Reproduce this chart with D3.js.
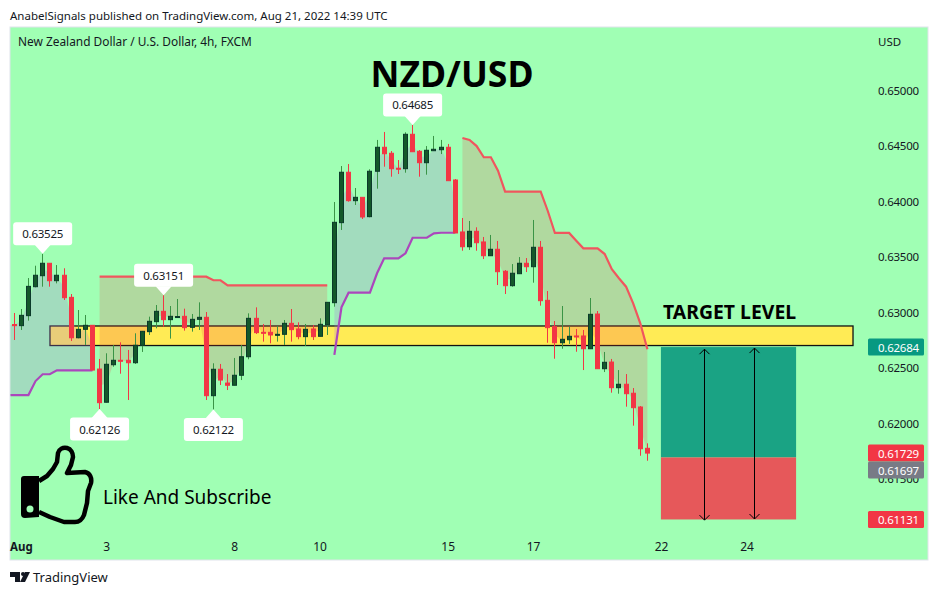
<!DOCTYPE html>
<html><head><meta charset="utf-8">
<script src="https://cdn.jsdelivr.net/npm/d3@7"></script>
<style>
html,body{margin:0;padding:0;background:#fff}
svg{display:block}
text{font-family:"Noto Sans",sans-serif;fill:#131722}
</style></head><body>
<svg id="c" width="938" height="595"></svg>
<script>
// Prices in 1e-5 units, one entry per 4h candle
const open=[62887,62877,62967,63228,63327,63439,63282,63331,63132,62768,62844,62880,62486,62187,62525,62565,62565,62543,62700,62823,62913,63006,62931,62957,62961,62862,62934,62952,62246,62484,62360,62340,62430,62597,62943,62817,62817,62795,62799,62898,62847,62778,62847,62781,62886,63084,63805,64259,64003,64033,63859,64268,64484,64430,64295,64291,64601,64448,64345,64453,64462,64484,64189,63721,63588,63727,63631,63507,63565,63367,63237,63345,63439,63408,63583,63105,62868,62723,62750,62784,62784,62669,62982,62489,62549,62318,62349,62268,62144,61772];
const close=[62877,62970,63231,63331,63439,63282,63331,63129,62768,62844,62880,62477,62183,62529,62565,62559,62543,62700,62826,62916,63006,62931,62961,62959,62859,62934,62952,62246,62484,62387,62340,62430,62597,62943,62814,62811,62793,62799,62898,62841,62778,62844,62778,62889,63087,63808,64259,64003,64033,63856,64268,64484,64426,64291,64291,64601,64444,64345,64457,64466,64484,64183,63712,63588,63727,63624,63507,63565,63363,63237,63349,63439,63408,63583,63102,62859,62723,62754,62781,62778,62669,62979,62489,62547,62318,62349,62264,62138,61768,61729];
const high=[62991,63027,63306,63417,63525,63441,63423,63394,63162,63018,62973,62883,62577,62628,62703,62727,62658,62808,62829,62958,63063,63151,63054,63117,63030,62982,63087,63000,62538,62532,62441,62586,62703,62988,63042,62892,62928,62874,62928,63027,62907,62892,62883,62943,63087,63991,64315,64333,64117,64033,64286,64550,64622,64450,64369,64619,64685,64459,64495,64586,64550,64514,64198,63847,63820,63763,63676,63694,63640,63378,63432,63495,63486,63829,63640,63189,62919,63054,62868,62847,62838,63126,63009,62640,62577,62477,62441,62315,62153,61817];
const low=[62748,62838,62922,63222,63228,63228,63258,63108,62739,62763,62703,62475,62126,62185,62507,62444,62207,62532,62640,62793,62853,62868,62760,62957,62832,62823,62838,62207,62122,62342,62297,62340,62387,62574,62802,62733,62718,62733,62703,62733,62754,62694,62748,62781,62793,63048,63739,63994,63964,63838,63853,64111,64309,64219,64243,64255,64444,64219,64237,64453,64423,64183,63712,63552,63559,63552,63477,63507,63243,63162,63228,63345,63360,63264,63057,62723,62579,62669,62712,62642,62477,62669,62489,62459,62273,62264,62147,61976,61705,61660];
// Trend stop lines: [candle index, price in 1e-5 units]
const upStop1=[[-1,62252],[0,62252],[1,62252],[2,62252],[3,62378],[4,62439],[5,62439],[6,62475],[7,62475],[8,62475],[9,62475],[10,62475],[11,62475]];
const downStop1=[[12,63318],[27,63318],[28,63286],[29,63286],[30,63240],[44,63240]];
const upStop2=[[45,62613],[46,63042],[47,63174],[50,63174],[51,63349],[52,63484],[54,63484],[55,63529],[56,63669],[58,63669],[59,63709],[60,63714],[62,63714]];
const downStop2=[[63,64568],[64,64550],[65,64495],[66,64394],[67,64394],[68,64273],[69,64084],[74,64084],[75,63910],[76,63712],[78,63712],[79,63642],[80,63574],[82,63574],[83,63522],[84,63385],[85,63304],[86,63228],[87,63078],[88,62898],[89,62664]];
const priceTicks=[0.65,0.645,0.64,0.635,0.63,0.625,0.62,0.615];
const dateTicks=[["Aug",1,true],["3",13],["8",31],["10",43],["15",61],["17",73],["22",91],["24",103]];
const callouts=[[4,"0.63525",1,63525],[21,"0.63151",1,63151],[12,"0.62126",-1,62126],[28,"0.62122",-1,62122],[56,"0.64685",1,64685]];
// value, colour, price the tag is pushed to so the two last-price tags stack
const priceTags=[[0.62684,"#089981",0.62684],[0.61729,"#f23645",0.61729],[0.61697,"#787b86",0.61576],[0.61131,"#f23645",0.61131]];
const bandPrices=[0.62874,0.62698];
const bandIdx=[5.03,117.9];
const zonePrices=[0.62684,0.6169,0.61131];
const zoneIdx=[90.9,109.9];
const arrowIdx=[[97,0.62665,0.61125],[104,0.62675,0.61135]];

const svg=d3.select("#c");
const x=d3.scaleLinear().domain([0,89]).range([14.2,647.4]);
const y=d3.scaleLinear().domain([0.65,0.62]).range([90,423]);
const yp=v=>y(v/1e5);
const GREEN="#14582a",GEDGE="#0b3a2a",GWICK="#3a9446",RED="#f23645";

const defs=svg.append("defs");
defs.append("clipPath").attr("id","pane").append("rect").attr("x",10.5).attr("y",27.5).attr("width",917).attr("height",532);

svg.append("rect").attr("x",10).attr("y",27).attr("width",918).attr("height",533).attr("fill","#a0ffb4").attr("stroke","#e0e3eb").attr("stroke-width",1);

const tf=(s,x0,y0,o={})=>svg.append("text").attr("x",x0).attr("y",y0).attr("font-size",o.size||12)
  .attr("font-weight",o.weight||400).attr("text-anchor",o.anchor||"start").attr("dominant-baseline","central")
  .attr("letter-spacing",o.ls||0).style("fill",o.fill||"#131722").text(s);

const pane=svg.append("g").attr("clip-path","url(#pane)");

// yellow band
pane.append("rect").attr("x",x(bandIdx[0])).attr("width",x(bandIdx[1])-x(bandIdx[0]))
  .attr("y",y(bandPrices[0])).attr("height",y(bandPrices[1])-y(bandPrices[0]))
  .attr("fill","#ffeb55").attr("stroke","#111").attr("stroke-width",1.3);

// expand a stop line to per-candle values
function expand(seg){
  const out=[];
  for(let k=0;k<seg.length-1;k++){
    const [a,va]=seg[k],[b,vb]=seg[k+1];
    for(let i=a;i<b;i++) out.push([i,va+(vb-va)*(i-a)/(b-a)]);
  }
  out.push(seg[seg.length-1]);
  return out;
}
const mid=i=>{const j=Math.max(0,i);return (open[j]+close[j])/2};
const area=d3.area().x(d=>x(d[0])).y0(d=>yp(d[1])).y1(d=>yp(mid(d[0])));
const line=d3.line().x(d=>x(d[0])).y(d=>yp(d[1]));
[[upStop1,"rgba(171,125,217,.27)","#ab47bc"],[downStop1,"rgba(242,54,69,.19)","#f0565e"],[upStop2,"rgba(171,125,217,.27)","#ab47bc"],[downStop2,"rgba(242,54,69,.19)","#f0565e"]].forEach(([s,f,c])=>{
  const e=expand(s);
  pane.append("path").attr("d",area(e)).attr("fill",f);
  pane.append("path").attr("d",line(e)).attr("fill","none").attr("stroke",c).attr("stroke-width",2.2);
});

// candles
const cg=pane.append("g");
const idx=d3.range(open.length);
const cx=i=>Math.round(x(i)-0.5)+0.5;
cg.selectAll("line.w").data(idx).join("line").attr("class","w")
  .attr("x1",cx).attr("x2",cx).attr("y1",i=>yp(high[i])).attr("y2",i=>yp(low[i]))
  .attr("stroke",i=>close[i]>=open[i]?GWICK:RED).attr("stroke-width",1);
cg.selectAll("rect.b").data(idx).join("rect").attr("class","b")
  .attr("x",i=>cx(i)-2).attr("width",4)
  .attr("y",i=>yp(Math.max(open[i],close[i])))
  .attr("height",i=>Math.max(1,Math.abs(yp(open[i])-yp(close[i]))))
  .attr("fill",i=>close[i]>=open[i]?GREEN:RED)
  .attr("stroke",i=>close[i]>=open[i]?GEDGE:RED).attr("stroke-width",1);

// position zones
pane.append("rect").attr("x",x(zoneIdx[0])).attr("width",x(zoneIdx[1])-x(zoneIdx[0]))
  .attr("y",y(zonePrices[0])).attr("height",y(zonePrices[1])-y(zonePrices[0])).attr("fill","#1aa384");
pane.append("rect").attr("x",x(zoneIdx[0])).attr("width",x(zoneIdx[1])-x(zoneIdx[0]))
  .attr("y",y(zonePrices[1])).attr("height",y(zonePrices[2])-y(zonePrices[1])).attr("fill","#e6585a");
arrowIdx.forEach(([i,a,b])=>{
  const X=Math.round(x(i))+0.5,t=y(a),B=y(b);
  const p=d3.path();
  p.moveTo(X,t);p.lineTo(X,B);
  p.moveTo(X-5,t+5);p.lineTo(X,t);p.lineTo(X+5,t+5);
  p.moveTo(X-5,B-5);p.lineTo(X,B);p.lineTo(X+5,B-5);
  pane.append("path").attr("d",p.toString()).attr("fill","none").attr("stroke","#000").attr("stroke-width",1);
});

// callouts
callouts.forEach(([i,t,dir,v])=>{
  const tx=x(i),ty=yp(v),w=59,h=23,tip=8.5;
  const by=dir>0?ty-tip-h:ty+tip;
  const g=pane.append("g");
  g.append("rect").attr("x",tx-w/2).attr("y",by).attr("width",w).attr("height",h).attr("rx",3).attr("fill","#fff");
  const edge=dir>0?ty-tip:ty+tip;
  g.append("path").attr("d",d3.line()([[tx-8,edge+(dir>0?-.5:.5)],[tx,ty],[tx+8,edge+(dir>0?-.5:.5)]])).attr("fill","#fff");
  g.append("text").attr("x",tx).attr("y",by+h/2).attr("text-anchor","middle").attr("dominant-baseline","central").attr("font-size",11.5).attr("letter-spacing",-0.25).text(t);
});

// price axis
priceTicks.forEach(v=>tf(d3.format(".5f")(v),878,y(v),{size:11.5,ls:-0.25}));
priceTags.forEach(([v,c,at])=>{
  svg.append("rect").attr("x",868).attr("y",y(at)-8.5).attr("width",56).attr("height",17).attr("rx",1.5).attr("fill",c);
  tf(d3.format(".5f")(v),878,y(at),{fill:"#fff",size:11.5,ls:-0.25});
});
tf("USD",878,41,{size:11.5});

// date axis
dateTicks.forEach(([t,i,b])=>tf(t,x(i),546,{anchor:"middle",weight:b?700:400,size:b?11.5:12}));

// header / footer text
tf("AnabelSignals published on TradingView.com, Aug 21, 2022 14:39 UTC",10,15,{size:11.5});
tf("New Zealand Dollar / U.S. Dollar, 4h, FXCM",18,41,{size:11.9});
tf("NZD/USD",452,73,{size:35.6,weight:700,anchor:"middle",fill:"#000"});
tf("TARGET LEVEL",663,311,{size:19.4,weight:700,fill:"#000"});
tf("Like And Subscribe",103,497,{size:19,fill:"#000"});
tf("TradingView",33,577,{size:13});

// thumbs-up icon
const icon=svg.append("g");
icon.append("path").attr("d","M39 481 L47 476 L53 469 L57 462 L58 453 C59 449 63 447 67 448 C71 449 73 453 73 457 L71 465 L67 473 L85 472 C90 473 92 478 91 483 L88 491 L87 503 L84 515 C82 520 79 522 75 522 L64 522 L50 517 L39 512")
  .attr("fill","none").attr("stroke","#000").attr("stroke-width",4.5).attr("stroke-linejoin","round");
icon.append("path").attr("d","M24 476 L39 476 L39 517 L25 518 Q21 518 21 514 L21 479 Q21 476 24 476 Z").attr("fill","#000");
icon.append("circle").attr("cx",30).attr("cy",509).attr("r",3.5).attr("fill","#a0ffb4");

// TradingView mark
svg.append("path").attr("d","M10 572 H20 V582 H15 V577 H10 Z").attr("fill","#131722");
svg.append("circle").attr("cx",23).attr("cy",574).attr("r",2).attr("fill","#131722");
svg.append("path").attr("d","M25 572 H30 L25 582 H20 Z").attr("fill","#131722");
</script>
</body></html>
